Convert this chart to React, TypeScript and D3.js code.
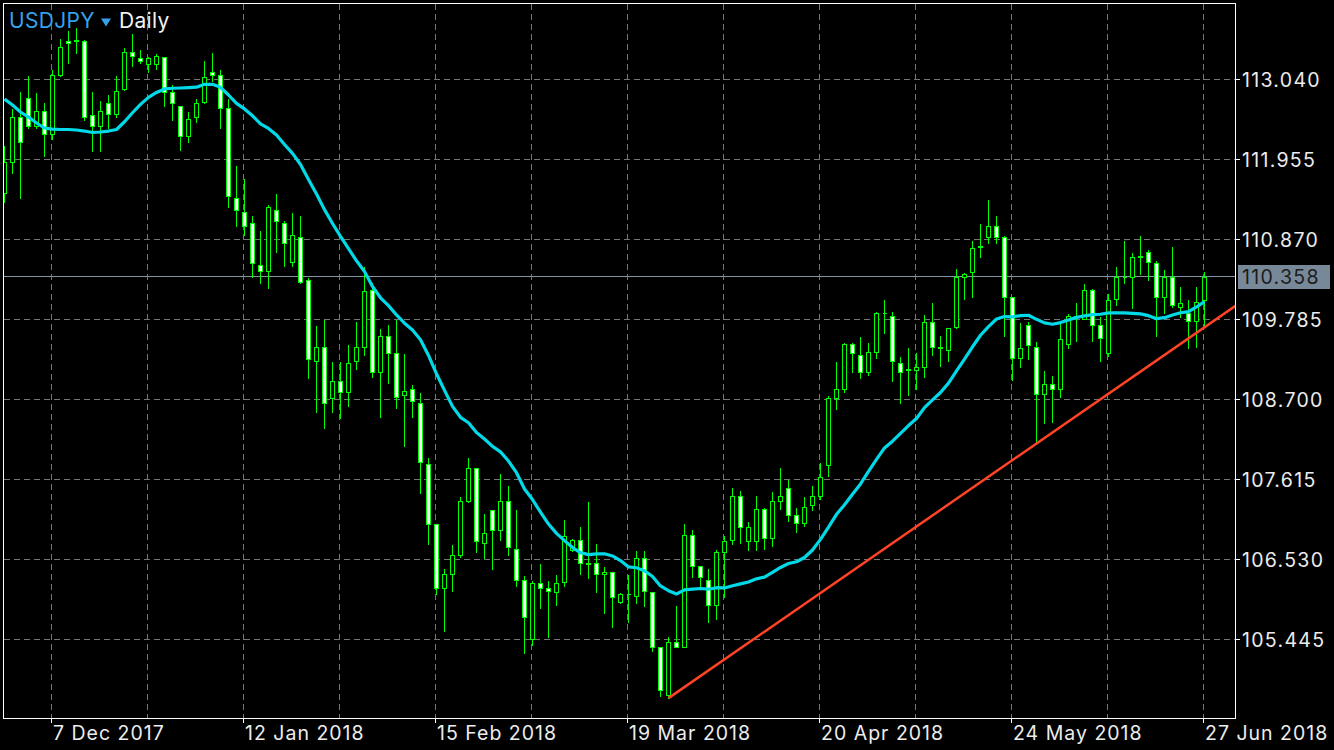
import React, { useEffect } from "react";
import * as d3 from "d3";

const symbol = "USDJPY";
const timeframe = "Daily";
const lastPrice = 110.358;
const maPeriod = 20;

// OHLC per daily bar (29 Nov 2017 .. 27 Jun 2018)
const opens = [
  111.49, 111.92, 112.53, 112.78, 112.40, 112.60, 112.30, 113.09, 113.55, 113.57,
  113.55, 112.55, 112.40, 112.72, 112.56, 112.90, 113.40, 113.32, 113.25, 113.25,
  113.34, 112.86, 112.67, 112.27, 112.52, 112.73, 113.14, 113.09, 112.64, 111.43,
  111.24, 111.09, 110.52, 110.44, 111.27, 111.09, 110.56, 110.90, 110.31, 109.22,
  109.41, 108.71, 108.95, 108.79, 109.21, 109.41, 110.18, 109.06, 109.56, 109.32,
  108.75, 108.84, 108.65, 107.82, 107.00, 106.13, 106.33, 106.59, 107.32, 107.77,
  106.75, 107.19, 106.93, 107.32, 106.67, 106.24, 105.45, 106.20, 106.13, 106.08,
  106.22, 106.65, 106.79, 106.47, 106.47, 106.33, 106.35, 105.95, 106.05, 106.03,
  106.54, 106.08, 105.33, 104.68, 105.41, 105.34, 106.86, 106.43, 106.24, 105.90,
  106.62, 106.79, 107.38, 106.77, 106.77, 107.21, 106.81, 107.32, 107.49, 107.12,
  107.02, 107.26, 107.38, 107.80, 108.71, 108.83, 109.44, 109.30, 109.07, 109.34,
  109.86, 109.83, 109.19, 109.11, 109.10, 109.14, 109.75, 109.39, 109.36, 109.67,
  110.36, 110.42, 110.76, 110.90, 111.04, 110.90, 110.08, 109.26, 109.71, 109.41,
  108.77, 108.91, 108.83, 109.45, 109.82, 109.79, 110.18, 109.70, 109.33, 110.05,
  110.35, 110.35, 110.63, 110.70, 110.55, 110.08, 110.36, 109.95, 109.86, 109.76,
  110.04,
];
const highs = [
  112.15, 112.65, 112.88, 113.10, 112.87, 112.73, 113.17, 113.59, 113.70, 113.75,
  113.58, 112.88, 112.75, 112.83, 113.09, 113.48, 113.66, 113.45, 113.35, 113.39,
  113.35, 112.97, 112.68, 112.61, 112.78, 113.30, 113.40, 113.18, 112.78, 111.88,
  111.70, 111.19, 110.99, 111.35, 111.49, 111.13, 111.23, 111.19, 110.35, 109.71,
  109.78, 109.21, 109.22, 109.45, 109.76, 110.50, 110.29, 109.66, 109.72, 109.78,
  109.32, 108.90, 108.79, 107.91, 107.01, 106.41, 106.74, 107.39, 107.92, 107.78,
  107.15, 107.20, 107.69, 107.54, 107.21, 106.31, 106.24, 106.47, 106.24, 106.33,
  107.07, 106.82, 106.98, 107.31, 106.75, 106.43, 106.37, 106.08, 106.32, 106.65,
  106.65, 106.09, 105.34, 105.49, 105.91, 107.02, 106.94, 106.44, 106.41, 106.67,
  106.85, 107.50, 107.47, 107.05, 107.40, 107.24, 107.45, 107.78, 107.62, 107.23,
  107.39, 107.53, 107.85, 108.76, 109.21, 109.47, 109.47, 109.55, 109.47, 109.90,
  110.05, 109.89, 109.28, 109.41, 109.34, 109.85, 110.02, 109.57, 109.68, 110.47,
  110.42, 110.86, 111.09, 111.41, 111.19, 110.93, 110.09, 109.75, 109.76, 109.48,
  109.09, 109.02, 109.74, 109.86, 110.01, 110.27, 110.21, 109.82, 110.14, 110.50,
  110.85, 110.70, 110.92, 110.74, 110.58, 110.46, 110.77, 110.23, 110.05, 110.23,
  110.44,
];
const lows = [
  111.37, 111.76, 111.43, 112.38, 112.37, 112.00, 112.23, 113.08, 113.26, 113.39,
  112.49, 112.07, 112.06, 112.37, 112.52, 112.89, 113.21, 113.26, 113.14, 113.17,
  112.67, 112.49, 112.08, 112.18, 112.46, 112.72, 113.01, 112.38, 111.30, 111.05,
  110.92, 110.35, 110.27, 110.20, 110.70, 110.50, 110.51, 110.28, 108.99, 108.52,
  108.31, 108.52, 108.44, 108.61, 109.11, 109.29, 109.00, 108.46, 108.92, 108.58,
  108.06, 108.45, 107.43, 106.73, 106.05, 105.56, 106.10, 106.56, 107.30, 106.62,
  106.54, 106.40, 106.79, 106.58, 106.17, 105.26, 105.36, 105.86, 105.47, 105.90,
  106.16, 106.64, 106.33, 106.27, 106.08, 105.80, 105.61, 105.93, 105.68, 105.94,
  105.89, 105.28, 104.67, 104.65, 105.33, 105.33, 106.29, 106.14, 105.67, 105.71,
  106.01, 106.73, 106.75, 106.65, 106.65, 106.67, 106.71, 107.21, 107.05, 106.89,
  106.98, 107.19, 107.34, 107.66, 108.56, 108.80, 109.07, 108.98, 109.03, 109.25,
  109.60, 108.94, 108.65, 108.76, 108.84, 109.00, 109.30, 109.15, 109.22, 109.66,
  110.06, 110.08, 110.62, 110.82, 110.82, 109.56, 108.96, 109.13, 109.24, 108.12,
  108.37, 108.39, 108.73, 109.39, 109.48, 109.78, 109.48, 109.21, 109.28, 109.98,
  110.28, 109.94, 110.39, 110.32, 109.56, 109.87, 109.95, 109.81, 109.39, 109.40,
  109.70,
];
const closes = [
  111.91, 112.53, 112.19, 112.40, 112.60, 112.30, 113.09, 113.47, 113.53, 113.56,
  112.53, 112.40, 112.61, 112.56, 112.88, 113.40, 113.35, 113.29, 113.33, 113.35,
  112.87, 112.71, 112.27, 112.50, 112.72, 113.07, 113.10, 112.65, 111.45, 111.27,
  111.04, 110.54, 110.44, 111.30, 111.11, 110.82, 110.92, 110.29, 109.24, 109.41,
  108.65, 108.95, 108.79, 109.19, 109.40, 110.16, 109.06, 109.56, 109.33, 108.73,
  108.81, 108.67, 107.84, 107.01, 106.14, 106.32, 106.59, 107.32, 107.77, 106.77,
  106.88, 106.93, 107.32, 106.69, 106.24, 105.75, 106.20, 106.14, 106.09, 106.21,
  106.84, 106.79, 106.47, 106.46, 106.33, 106.35, 106.01, 106.06, 106.06, 106.54,
  106.09, 105.34, 104.76, 105.41, 105.34, 106.86, 106.43, 106.29, 105.90, 106.62,
  106.78, 107.38, 106.97, 106.96, 107.21, 106.81, 107.31, 107.38, 107.13, 107.02,
  107.24, 107.38, 107.64, 108.71, 108.83, 109.44, 109.32, 109.06, 109.34, 109.87,
  109.87, 109.21, 109.06, 109.10, 109.13, 109.75, 109.41, 109.40, 109.66, 110.35,
  110.40, 110.75, 110.77, 111.05, 110.90, 110.09, 109.26, 109.39, 109.43, 108.77,
  108.91, 108.83, 109.52, 109.82, 109.81, 110.18, 109.71, 109.53, 110.04, 110.36,
  110.36, 110.63, 110.64, 110.56, 110.08, 110.36, 109.98, 110.00, 109.76, 110.02,
  110.358,
];
// Moving-average values for the first bars (history before the visible window)
const maHead = [
  112.775, 112.694, 112.599, 112.531, 112.45, 112.382, 112.368, 112.362, 112.362, 112.355,
  112.341, 112.321, 112.328, 112.341, 112.362, 112.467, 112.589, 112.703, 112.798,
];

const priceTicks = [113.04, 111.955, 110.87, 109.785, 108.7, 107.615, 106.53, 105.445];
const dateTickLabels = ["7 Dec 2017", "12 Jan 2018", "15 Feb 2018", "19 Mar 2018", "20 Apr 2018", "24 May 2018", "27 Jun 2018"];
const dateTickBars = [6, 30, 54, 78, 102, 126, 150];

// trend line anchors: [bar index, price]
const trendStart = [83, 104.65];
const trendEnd = [150, 109.68];

const FONT = "Inter, 'Noto Sans', 'DejaVu Sans', sans-serif";

export default function App() {
  useEffect(() => {
    document.body.style.margin = "0";
    document.body.style.background = "#000";
  }, []);

  const W = 1334;
  const H = 750;
  const left = 3.5, top = 3.5, right = 1235.5, bottom = 718.5;

  const x = d3.scaleLinear().domain([0, 150]).range([4.5, 1204.5]);
  const y = d3.scaleLinear().domain([105.445, 113.04]).range([639.5, 79.5]);
  const py = (v: number) => Math.round(y(v) - 0.5) + 0.5;

  const n = closes.length;
  const ma = closes.map((c, i) =>
    i < maPeriod - 1 ? maHead[i] : (d3.mean(closes.slice(i - maPeriod + 1, i + 1)) as number)
  );
  const maPath = d3
    .line<number>()
    .x((_, i) => x(i))
    .y((d) => y(d))(ma) as string;

  const slope = (trendEnd[1] - trendStart[1]) / (trendEnd[0] - trendStart[0]);
  const endBar = x.invert(right);
  const trendPath = d3.line<number[]>().x((d) => x(d[0])).y((d) => y(d[1]))([
    trendStart,
    [endBar, trendStart[1] + slope * (endBar - trendStart[0])],
  ]) as string;

  const gridBars = d3.range(6, n, 12);
  const green = "#00ff00";
  const gridColor = "#767676";

  return (
    <svg
      width={W}
      height={H}
      style={{ position: "absolute", left: 0, top: 0, display: "block", background: "#000" }}
    >
      <defs>
        <clipPath id="plot">
          <rect x={left + 0.5} y={top + 0.5} width={right - left - 1} height={bottom - top - 1} />
        </clipPath>
      </defs>
      <rect x={0} y={0} width={W} height={H} fill="#000" />

      {/* grid */}
      <g shapeRendering="crispEdges" stroke={gridColor} strokeWidth={1} strokeDasharray="6,4">
        {priceTicks.map((p) => (
          <line key={"h" + p} x1={left} x2={right} y1={py(p)} y2={py(p)} />
        ))}
        {gridBars.map((b) => (
          <line key={"v" + b} x1={x(b) - 1} x2={x(b) - 1} y1={top} y2={bottom} />
        ))}
      </g>

      {/* current price line */}
      <line
        x1={left}
        x2={right}
        y1={py(lastPrice) - 1}
        y2={py(lastPrice) - 1}
        stroke="#8593a3"
        strokeWidth={1}
        shapeRendering="crispEdges"
      />

      <g clipPath="url(#plot)">
        {/* candles */}
        <g shapeRendering="crispEdges">
          {closes.map((c, i) => {
            const o = opens[i];
            const cx = x(i);
            const bull = c >= o;
            const yt = py(Math.max(o, c));
            const yb = py(Math.min(o, c));
            return (
              <g key={i}>
                <line x1={cx} x2={cx} y1={py(highs[i])} y2={py(lows[i])} stroke={green} strokeWidth={1} />
                <path
                  d={`M${cx - 2},${yt}H${cx + 2}V${yb}H${cx - 2}Z`}
                  fill={bull ? "#000" : "#fff"}
                  stroke={green}
                  strokeWidth={1}
                />
              </g>
            );
          })}
        </g>
        {/* moving average */}
        <path d={maPath} fill="none" stroke="#00d9e8" strokeWidth={3.2} strokeLinejoin="round" />
        {/* trend line */}
        <path d={trendPath} fill="none" stroke="#ff4324" strokeWidth={2.5} />
      </g>

      {/* frame */}
      <rect
        x={left}
        y={top}
        width={right - left}
        height={bottom - top}
        fill="none"
        stroke="#fff"
        strokeWidth={1}
        shapeRendering="crispEdges"
      />

      {/* price axis */}
      <g fontFamily={FONT} fontSize={19.5} fill="#ececec" letterSpacing={1.3}>
        {priceTicks.map((p) => (
          <g key={"yt" + p}>
            <line x1={right} x2={right + 4} y1={py(p)} y2={py(p)} stroke="#fff" shapeRendering="crispEdges" />
            <text x={1242} y={py(p) + 7.2}>{p.toFixed(3)}</text>
          </g>
        ))}
      </g>
      <rect x={1238} y={265} width={92} height={24} fill="#778899" />
      <text x={1242} y={284} fontFamily={FONT} fontSize={19.5} fill="#1c1c1c" letterSpacing={1.3}>
        {lastPrice.toFixed(3)}
      </text>

      {/* time axis */}
      <g fontFamily={FONT} fontSize={19.5} fill="#ececec" letterSpacing={1.0}>
        {dateTickBars.map((b, k) => (
          <g key={"xt" + b}>
            <line x1={x(b) - 1} x2={x(b) - 1} y1={bottom} y2={bottom + 4} stroke="#fff" shapeRendering="crispEdges" />
            <text x={x(b) + 0.5} y={740}>{dateTickLabels[k]}</text>
          </g>
        ))}
      </g>

      {/* title */}
      <text x={9} y={28} fontFamily={FONT} fontSize={21} fill="#35a2ea" letterSpacing={0.3}>
        {symbol}
      </text>
      <path d="M101,18.5L111,18.5L106,26.5Z" fill="#35a2ea" />
      <text x={119} y={28} fontFamily={FONT} fontSize={21} fill="#f2f2f2" letterSpacing={0.3}>
        {timeframe}
      </text>
    </svg>
  );
}
